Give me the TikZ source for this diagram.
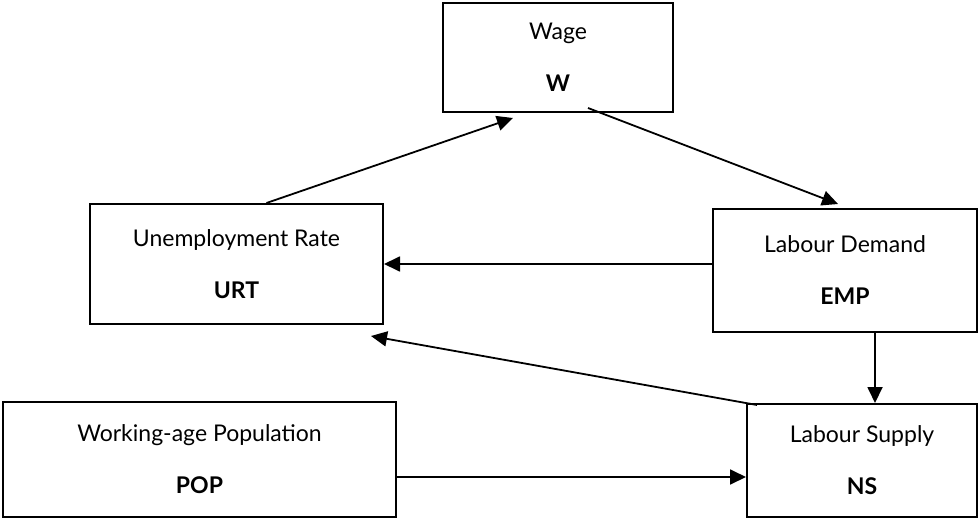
\documentclass[tikz,border=0pt]{standalone}
\usepackage{fontspec}
\setmainfont{Lato}
\usetikzlibrary{arrows.meta,calc,positioning}

\tikzset{
  block/.style={draw, line width=1pt, rectangle, align=center, inner sep=0pt,
    font=\fontsize{11.5}{13}\selectfont},
  link/.style={->, line width=0.9pt}
}

\begin{document}
\begin{tikzpicture}[x=0.5pt, y=-0.5pt, >={Triangle[length=8pt,width=7.5pt]}]
 \useasboundingbox (0,0) rectangle (979,519);

 \node[block, minimum width=115pt, minimum height=54.5pt] (wage) at (558,57.5) {Wage\\[13pt]\textbf{W}};
 \node[block, minimum width=146.5pt, minimum height=60pt] (urt) at (236.5,264) {Unemployment Rate\\[13pt]\textbf{URT}};
 \node[block, minimum width=132pt, minimum height=61.5pt] (emp) at (845,270.5) {Labour Demand\\[13pt]\textbf{EMP}};
 \node[block, minimum width=196.5pt, minimum height=57.5pt] (pop) at (199.5,459.5) {Working-age Population\\[13pt]\textbf{POP}};
 \node[block, minimum width=115pt, minimum height=56.5pt] (ns) at (862,460.5) {Labour Supply\\[13pt]\textbf{NS}};

 \draw[link] ([xshift=15pt]urt.north) -- ([xshift=-22.5pt,yshift=-2.5pt]wage.south);
 \draw[link] ([xshift=15pt,yshift=2.5pt]wage.south) -- ([xshift=-3.5pt,yshift=2pt]emp.north);
 \draw[link] (emp.west |- urt.east) -- (urt.east);
 \draw[link] ([xshift=15pt]emp.south) -- ([xshift=6.5pt]ns.north);
 \draw[link] ([xshift=5.5pt,yshift=-1pt]ns.north west) -- ([xshift=-6.5pt,yshift=-5.5pt]urt.south east);
 \draw[link] ([yshift=-8.75pt]pop.east) -- ([yshift=-8.75pt]pop.east -| ns.west);

\end{tikzpicture}
\end{document}
